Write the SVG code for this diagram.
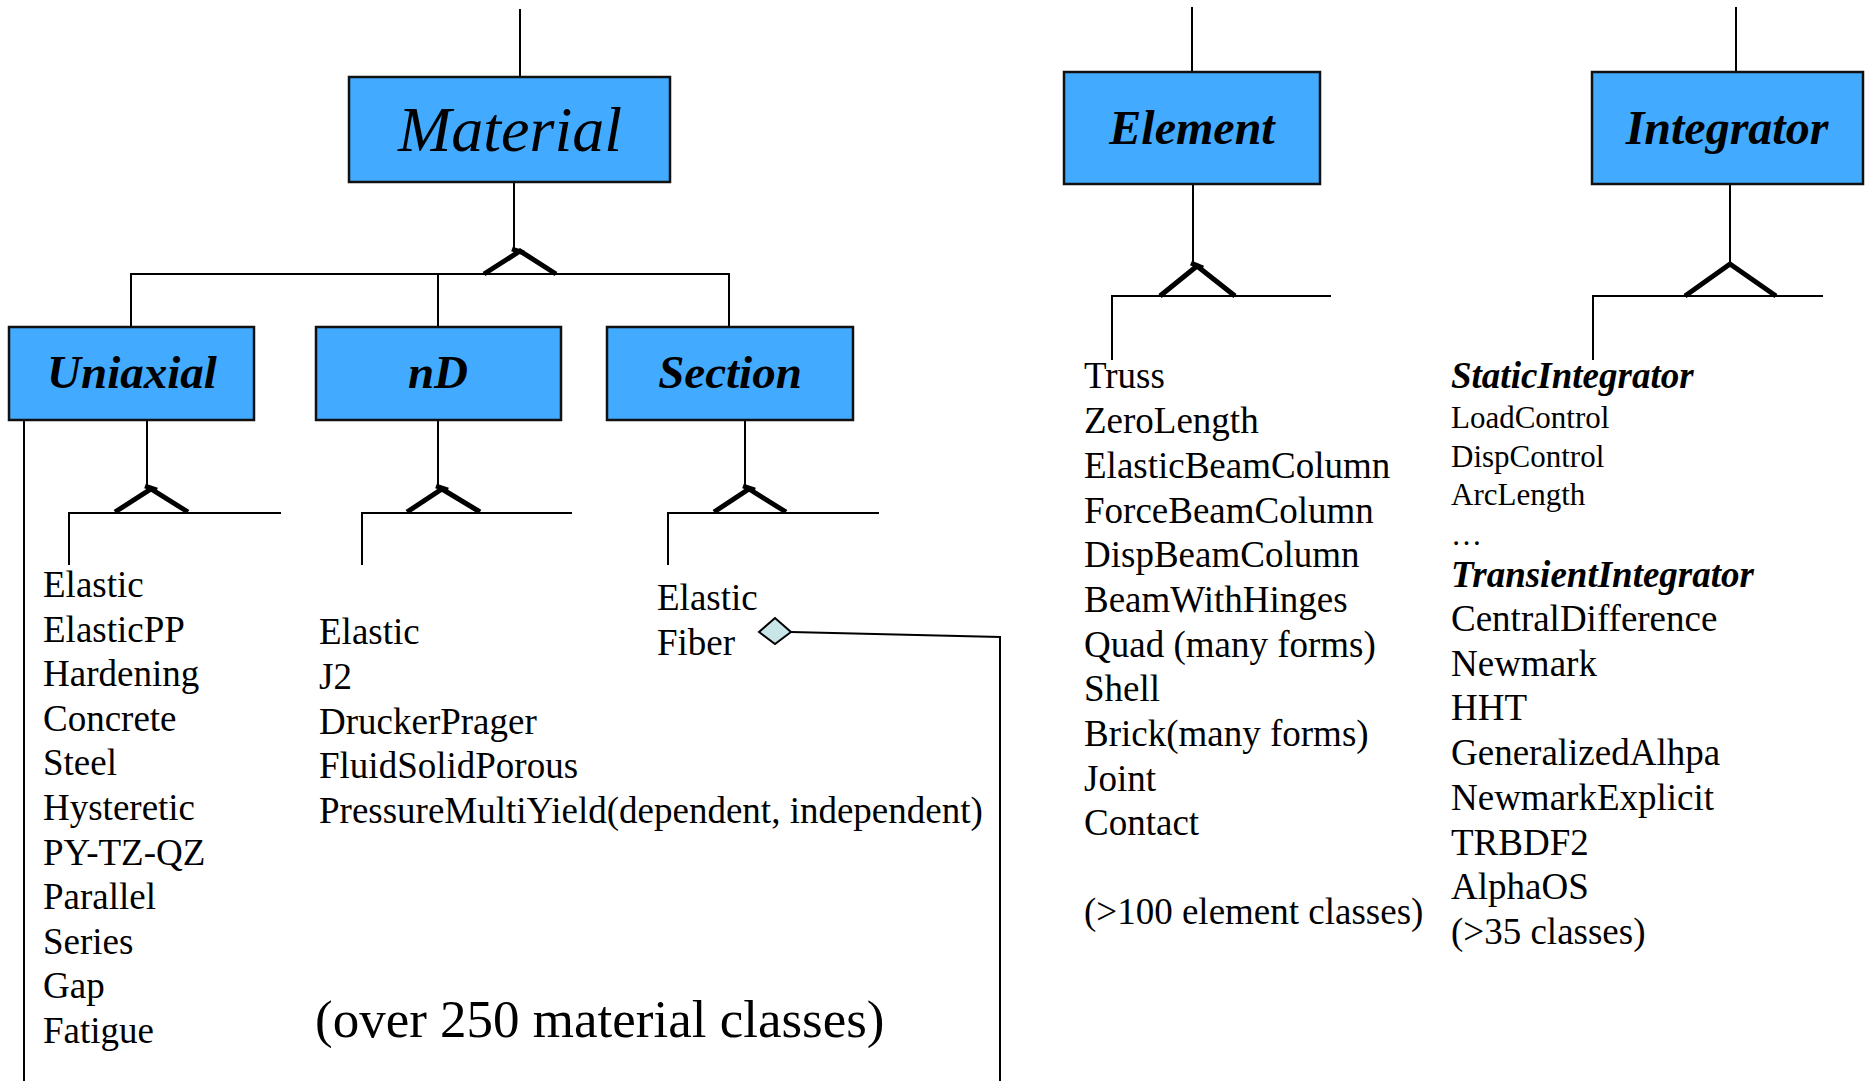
<svg xmlns="http://www.w3.org/2000/svg" width="1866" height="1081" viewBox="0 0 1866 1081">
<style>
.box{fill:#42abff;stroke:#111;stroke-width:2.5}
.ln{fill:none;stroke:#000;stroke-width:2}
.tri{fill:none;stroke:#000;stroke-width:5;stroke-linejoin:miter}
.tick{stroke:#000;stroke-width:5}
.t{font-family:"Liberation Serif","Times New Roman",serif;fill:#000}
.hd{font-style:italic;font-weight:bold;text-anchor:middle}
.it{font-size:37px}
.sm{font-size:31px}
.bi{font-style:italic;font-weight:bold}
</style>
<rect width="1866" height="1081" fill="#fff"/>
<g id="connectors">
  <line class="ln" x1="520" y1="9" x2="520" y2="77"/>
  <line class="ln" x1="514" y1="182" x2="514" y2="250"/>
  <polyline class="tri" points="484,274 520,251 556,274"/>
  <line class="tick" x1="512" y1="249" x2="524" y2="253"/>
  <polyline class="ln" points="131,327 131,274 729,274 729,327"/>
  <line class="ln" x1="438" y1="274" x2="438" y2="327"/>
  <line class="ln" x1="147" y1="420" x2="147" y2="487"/>
  <polyline class="tri" points="115,512 151,489 188,512"/>
  <line class="tick" x1="145" y1="486" x2="157" y2="490"/>
  <polyline class="ln" points="69,565 69,513 281,513"/>
  <line class="ln" x1="24" y1="420" x2="24" y2="1081"/>
  <line class="ln" x1="438" y1="420" x2="438" y2="487"/>
  <polyline class="tri" points="407,512 442,489 480,512"/>
  <line class="tick" x1="436" y1="486" x2="448" y2="490"/>
  <polyline class="ln" points="362,565 362,513 572,513"/>
  <line class="ln" x1="745" y1="420" x2="745" y2="487"/>
  <polyline class="tri" points="714,512 749,489 786,512"/>
  <line class="tick" x1="743" y1="486" x2="755" y2="490"/>
  <polyline class="ln" points="668,565 668,513 879,513"/>
  <polyline class="ln" points="791,632 1000,637 1000,1081"/>
  <polygon points="759,632 775,618 791,632 775,644" fill="#c8e6e8" stroke="#000" stroke-width="2"/>
  <line class="ln" x1="1192" y1="7" x2="1192" y2="72"/>
  <line class="ln" x1="1193" y1="184" x2="1193" y2="265"/>
  <polyline class="tri" points="1160,296 1197,266 1235,296"/>
  <line class="tick" x1="1191" y1="263" x2="1203" y2="268"/>
  <polyline class="ln" points="1112,360 1112,296 1331,296"/>
  <line class="ln" x1="1736" y1="7" x2="1736" y2="72"/>
  <line class="ln" x1="1730" y1="184" x2="1730" y2="264"/>
  <polyline class="tri" points="1685,296 1730,264 1776,296"/>
  <polyline class="ln" points="1593,360 1593,296 1823,296"/>
</g>
<g id="material">
  <rect class="box" x="349" y="77" width="321" height="105"/>
  <text class="t" x="510" y="151" font-size="64" font-style="italic" text-anchor="middle">Material</text>
</g>
<g id="uniaxial">
  <rect class="box" x="9" y="327" width="245" height="93"/>
  <text class="t hd" x="132" y="388" font-size="47">Uniaxial</text>
</g>
<g id="nd">
  <rect class="box" x="316" y="327" width="245" height="93"/>
  <text class="t hd" x="438" y="388" font-size="47">nD</text>
</g>
<g id="section">
  <rect class="box" x="607" y="327" width="246" height="93"/>
  <text class="t hd" x="730" y="388" font-size="47">Section</text>
</g>
<g id="element">
  <rect class="box" x="1064" y="72" width="256" height="112"/>
  <text class="t hd" x="1192" y="144" font-size="48">Element</text>
</g>
<g id="integrator">
  <rect class="box" x="1592" y="72" width="271" height="112"/>
  <text class="t hd" x="1727" y="144" font-size="48">Integrator</text>
</g>
<g id="uniaxial-list" class="t it">
  <text x="43" y="597">Elastic</text>
  <text x="43" y="642">ElasticPP</text>
  <text x="43" y="686">Hardening</text>
  <text x="43" y="731">Concrete</text>
  <text x="43" y="775">Steel</text>
  <text x="43" y="820">Hysteretic</text>
  <text x="43" y="865">PY-TZ-QZ</text>
  <text x="43" y="909">Parallel</text>
  <text x="43" y="954">Series</text>
  <text x="43" y="998">Gap</text>
  <text x="43" y="1043">Fatigue</text>
</g>
<g id="nd-list" class="t it">
  <text x="319" y="644">Elastic</text>
  <text x="319" y="689">J2</text>
  <text x="319" y="734">DruckerPrager</text>
  <text x="319" y="778">FluidSolidPorous</text>
  <text x="319" y="823">PressureMultiYield(dependent, independent)</text>
</g>
<g id="section-list" class="t it">
  <text x="657" y="610">Elastic</text>
  <text x="657" y="655">Fiber</text>
</g>
<text class="t" x="315" y="1037" font-size="53">(over 250 material classes)</text>
<g id="element-list" class="t it">
  <text x="1084" y="388">Truss</text>
  <text x="1084" y="433">ZeroLength</text>
  <text x="1084" y="478">ElasticBeamColumn</text>
  <text x="1084" y="523">ForceBeamColumn</text>
  <text x="1084" y="567">DispBeamColumn</text>
  <text x="1084" y="612">BeamWithHinges</text>
  <text x="1084" y="657">Quad (many forms)</text>
  <text x="1084" y="701">Shell</text>
  <text x="1084" y="746">Brick(many forms)</text>
  <text x="1084" y="791">Joint</text>
  <text x="1084" y="835">Contact</text>
  <text x="1084" y="924">(&gt;100 element classes)</text>
</g>
<g id="integrator-list" class="t it">
  <text class="bi" x="1451" y="388">StaticIntegrator</text>
  <text class="sm" x="1451" y="428">LoadControl</text>
  <text class="sm" x="1451" y="467">DispControl</text>
  <text class="sm" x="1451" y="505">ArcLength</text>
  <text class="sm" x="1451" y="545">…</text>
  <text class="bi" x="1451" y="587">TransientIntegrator</text>
  <text x="1451" y="631">CentralDifference</text>
  <text x="1451" y="676">Newmark</text>
  <text x="1451" y="720">HHT</text>
  <text x="1451" y="765">GeneralizedAlhpa</text>
  <text x="1451" y="810">NewmarkExplicit</text>
  <text x="1451" y="855">TRBDF2</text>
  <text x="1451" y="899">AlphaOS</text>
  <text x="1451" y="944">(&gt;35 classes)</text>
</g>
</svg>
